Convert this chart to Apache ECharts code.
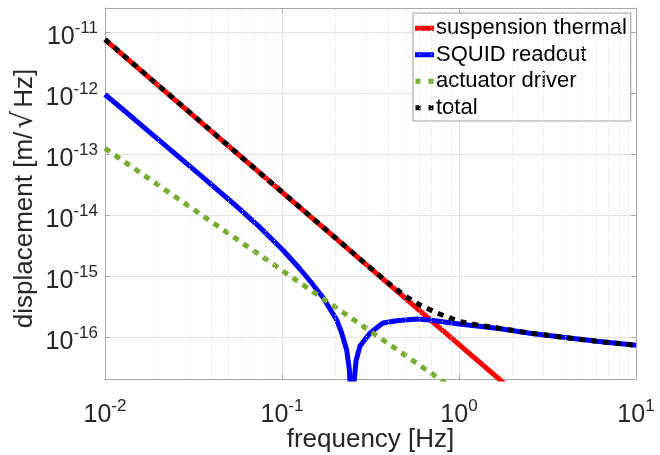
<!DOCTYPE html>
<html>
<head>
<meta charset="utf-8">
<script src="https://cdn.jsdelivr.net/npm/echarts@6/dist/echarts.min.js"></script>
<style>
html,body{margin:0;padding:0;background:#fff;}
#chart{width:660px;height:455px;}
</style>
</head>
<body>
<div id="chart"></div>
<script>
// ---- data ----
const thermalF = [0.01, 1.8];
const thermalV = [7.6e-12, 1.75e-17];

const squidF = [0.01, 0.01445, 0.02232, 0.0344, 0.0531, 0.0751, 0.1017, 0.1264, 0.1440, 0.1705, 0.2037, 0.2173, 0.2319, 0.240, 0.245, 0.2476, 0.252, 0.262, 0.2759, 0.314, 0.372, 0.445, 0.577, 0.685, 1.0, 1.633, 2.52, 3.87, 6.0, 10];
const squidV = [9.56e-13, 3.89e-13, 1.332e-13, 4.58e-14, 1.561e-14, 6.31e-15, 2.65e-15, 1.317e-15, 8.37e-16, 4.49e-16, 1.92e-16, 1.176e-16, 6.19e-17, 3.0e-17, 1.0e-17, 1e-18, 1.25e-17, 4.1e-17, 7.2e-17, 1.17e-16, 1.71e-16, 1.87e-16, 2.0e-16, 1.92e-16, 1.65e-16, 1.41e-16, 1.16e-16, 1.0e-16, 8.6e-17, 7.4e-17];

const actuatorF = [0.01, 0.85];
const actuatorV = [1.25e-13, 1.73e-17];

const totalF = [0.01, 0.1, 0.2, 0.3, 0.4, 0.5, 0.6, 0.75, 1.0, 1.3, 1.63, 2.52, 3.87, 6.0, 10];
const totalV = [7.65e-12, 2.41e-14, 4.3e-15, 1.56e-15, 7.7e-16, 4.7e-16, 3.4e-16, 2.5e-16, 1.82e-16, 1.57e-16, 1.43e-16, 1.17e-16, 1.0e-16, 8.6e-17, 7.4e-17];

const seriesNames = ['suspension thermal', 'SQUID readout', 'actuator driver', 'total'];

const xMin = 0.01, xMax = 10;
const yMin = 2.07e-17, yMax = 2.5e-11;
const xDecades = [0.01, 0.1, 1];
const yDecades = [1e-17, 1e-16, 1e-15, 1e-14, 1e-13, 1e-12, 1e-11];
const minorMult = [2, 3, 4, 5, 6, 7, 8, 9];

// ---- build ----
const pair = (f, v) => f.map((x, i) => [x, v[i]]);
const minorX = [];
xDecades.forEach(d => minorMult.forEach(m => { const v = d * m; if (v > xMin && v < xMax) minorX.push(v); }));
const minorY = [];
yDecades.forEach(d => minorMult.forEach(m => { const v = d * m; if (v > yMin && v < yMax) minorY.push(v); }));

const FONT = '"Liberation Sans", Arial, Helvetica, sans-serif';
const TXT = '#262626';
const AX = '#a8a8a8';

function expLabel(v) {
  const l = Math.log10(v);
  const e = Math.round(l);
  if (Math.abs(l - e) > 1e-6) return '';
  return '{b|10}{s|' + e + '}';
}
const rich = {
  b: { fontSize: 25, fontFamily: FONT, color: TXT, lineHeight: 25, padding: [9, 0, 0, 0] },
  s: { fontSize: 17, fontFamily: FONT, color: TXT, lineHeight: 17, verticalAlign: 'top' }
};

const baseAxisLine = { show: true, lineStyle: { color: AX, width: 1 } };
const baseTick = { show: true, inside: true, length: 5, lineStyle: { color: AX } };

const DOTS = 'path://M0,0h5v5h-5zM13,0h5v5h-5z';

const chart = echarts.init(document.getElementById('chart'), null, { renderer: 'canvas' });
chart.setOption({
  animation: false,
  backgroundColor: '#fff',
  grid: { left: 105, right: 24, top: 8, bottom: 76, containLabel: false, outerBoundsMode: 'none' },
  legend: {
    data: [
      { name: seriesNames[0], icon: 'rect' },
      { name: seriesNames[1], icon: 'rect' },
      { name: seriesNames[2], icon: DOTS },
      { name: seriesNames[3], icon: DOTS }
    ],
    orient: 'vertical',
    left: 413, top: 13,
    padding: [2, 4, 0, 2],
    itemGap: 0,
    itemWidth: 19, itemHeight: 5,
    backgroundColor: '#fff',
    borderColor: '#9a9a9a', borderWidth: 1,
    textStyle: { fontSize: 22, fontFamily: FONT, color: '#000', lineHeight: 26.5, padding: [0, 0, 0, -3] }
  },
  xAxis: [{
    type: 'log', logBase: 10, min: xMin, max: xMax,
    name: 'frequency [Hz]', nameLocation: 'middle', nameGap: 48, nameMoveOverlap: false,
    nameTextStyle: { fontSize: 26, fontFamily: FONT, color: TXT },
    axisLine: baseAxisLine, axisTick: baseTick,
    axisLabel: { formatter: expLabel, rich: rich, margin: 19 },
    splitLine: { show: true, lineStyle: { color: '#e3e3e3', width: 1 } }
  }, {
    type: 'log', logBase: 10, min: xMin, max: xMax, position: 'top',
    axisLine: baseAxisLine, axisTick: baseTick,
    axisLabel: { show: false }, splitLine: { show: false }
  }],
  yAxis: [{
    type: 'log', logBase: 10, min: yMin, max: yMax,
    name: '{t|displacement [m/}{r|\u221A}{t|Hz]}', nameLocation: 'middle', nameGap: 66, nameMoveOverlap: false,
    nameTextStyle: {
      fontSize: 26, fontFamily: FONT, color: TXT, padding: [0, 10, 0, 0],
      rich: {
        t: { fontSize: 26, fontFamily: FONT, color: TXT },
        r: { fontSize: 28, fontFamily: '"DejaVu Sans", sans-serif', color: TXT, padding: [0, 3, 0, 3] }
      }
    },
    axisLine: baseAxisLine, axisTick: baseTick,
    axisLabel: { formatter: expLabel, rich: rich, margin: 7 },
    splitLine: { show: true, lineStyle: { color: '#e3e3e3', width: 1 } }
  }, {
    type: 'log', logBase: 10, min: yMin, max: yMax, position: 'right',
    axisLine: baseAxisLine, axisTick: baseTick,
    axisLabel: { show: false }, splitLine: { show: false }
  }],
  series: [
    {
      name: 'minor grid', type: 'line', data: [], z: 1, silent: true,
      markLine: {
        silent: true, symbol: 'none', animation: false,
        label: { show: false },
        lineStyle: { color: '#dedede', width: 1, type: [1, 2] },
        emphasis: { disabled: true },
        data: minorX.map(v => ({ xAxis: v })).concat(minorY.map(v => ({ yAxis: v })))
      }
    },
    {
      name: seriesNames[0], type: 'line', data: pair(thermalF, thermalV),
      symbol: 'none', color: '#ff0000', lineStyle: { width: 5, color: '#ff0000' }, z: 2
    },
    {
      name: seriesNames[1], type: 'line', data: pair(squidF, squidV),
      symbol: 'none', color: '#0000ff', lineStyle: { width: 5, color: '#0000ff' }, z: 3
    },
    {
      name: seriesNames[2], type: 'line', data: pair(actuatorF, actuatorV),
      symbol: 'none', color: '#77ac30', lineStyle: { width: 5, color: '#77ac30', type: [6, 6], cap: 'butt' }, z: 4
    },
    {
      name: seriesNames[3], type: 'line', data: pair(totalF, totalV),
      symbol: 'none', color: '#000000', lineStyle: { width: 5, color: '#000000', type: [6, 6], cap: 'butt' }, z: 5
    }
  ]
});
</script>
</body>
</html>
